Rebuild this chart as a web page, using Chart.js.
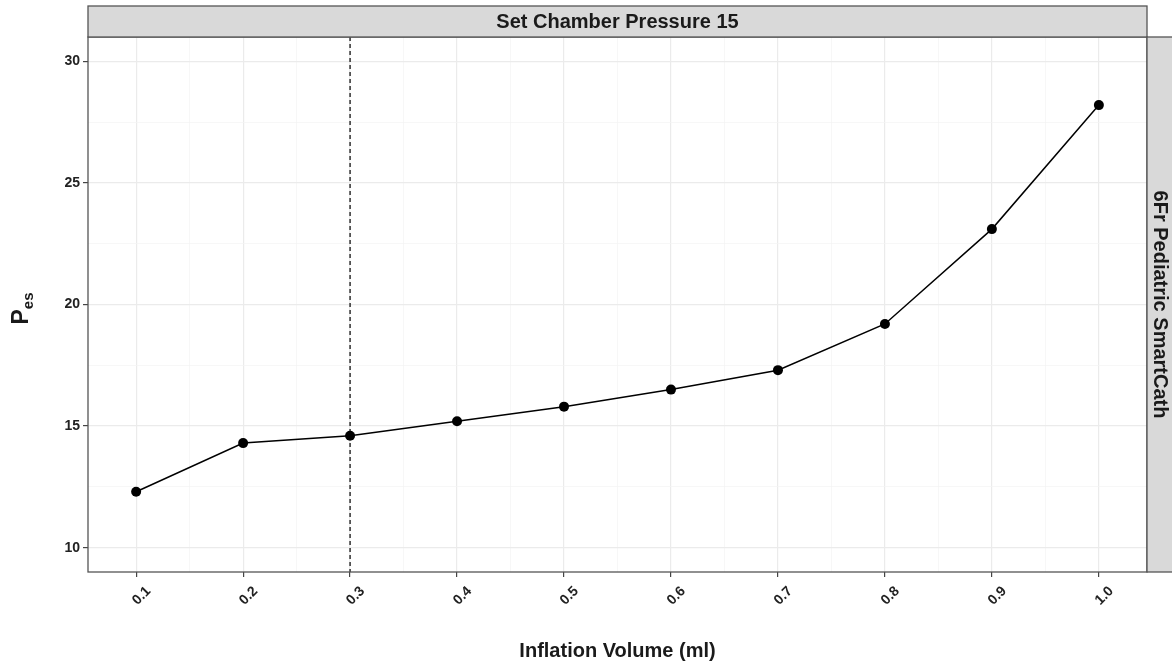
<!DOCTYPE html>
<html>
<head>
<meta charset="utf-8">
<script src="https://cdn.jsdelivr.net/npm/chart.js@4.4.0/dist/chart.umd.min.js"></script>
<style>
    body { margin: 0; background: #fff; }
    #wrap { width: 1172px; height: 671px; }
</style>
</head>
<body>
<div id="wrap"><canvas id="grafico" width="1172" height="671"></canvas></div>
<script>
// dados
const volumes = [0.1, 0.2, 0.3, 0.4, 0.5, 0.6, 0.7, 0.8, 0.9, 1.0];
const pes = [12.3, 14.3, 14.6, 15.2, 15.8, 16.5, 17.3, 19.2, 23.1, 28.2];
const xTicks = [0.1, 0.2, 0.3, 0.4, 0.5, 0.6, 0.7, 0.8, 0.9, 1.0];
const xTickLabels = ['0.1', '0.2', '0.3', '0.4', '0.5', '0.6', '0.7', '0.8', '0.9', '1.0'];
const xMinor = [0.15, 0.25, 0.35, 0.45, 0.55, 0.65, 0.75, 0.85, 0.95];
const yTicks = [10, 15, 20, 25, 30];
const yTickLabels = ['10', '15', '20', '25', '30'];
const yMinor = [12.5, 17.5, 22.5, 27.5];
const linhaRef = [0.3];

const tituloFaixaTopo = 'Set Chamber Pressure 15';
const tituloFaixaLado = '6Fr Pediatric SmartCath';
const tituloX = 'Inflation Volume (ml)';

const fonte = '"Liberation Sans", Arial, sans-serif';

function ehMajor(lista, v) {
    return lista.some(m => Math.abs(m - v) < 1e-6);
}

const pontos = volumes.map((v, i) => ({ x: v, y: pes[i] }));

const decoracao = {
    id: 'decoracao',
    beforeDatasetsDraw(chart) {
        // linha tracejada vertical
        const { ctx, chartArea, scales } = chart;
        ctx.save();
        ctx.strokeStyle = '#000';
        ctx.lineWidth = 1.2;
        ctx.setLineDash([4, 3]);
        linhaRef.forEach(v => {
            const px = scales.x.getPixelForValue(v);
            ctx.beginPath();
            ctx.moveTo(px, chartArea.top);
            ctx.lineTo(px, chartArea.bottom);
            ctx.stroke();
        });
        ctx.restore();
    },
    afterDraw(chart) {
        const { ctx, chartArea, scales } = chart;
        const { left, right, top, bottom } = chartArea;
        ctx.save();

        // borda do painel
        ctx.strokeStyle = '#555';
        ctx.lineWidth = 1.3;
        ctx.strokeRect(left, top, right - left, bottom - top);

        // faixa de cima
        ctx.fillStyle = '#d9d9d9';
        ctx.fillRect(left, 6, right - left, top - 6);
        ctx.strokeRect(left, 6, right - left, top - 6);

        // faixa do lado
        ctx.fillRect(right, top, 40, bottom - top);
        ctx.strokeRect(right, top, 40, bottom - top);

        ctx.fillStyle = '#1a1a1a';
        ctx.font = 'bold 20px ' + fonte;
        ctx.textAlign = 'center';
        ctx.textBaseline = 'middle';
        ctx.fillText(tituloFaixaTopo, (left + right) / 2, (6 + top) / 2 + 1);

        ctx.save();
        ctx.translate(right + 13, (top + bottom) / 2);
        ctx.rotate(Math.PI / 2);
        ctx.fillText(tituloFaixaLado, 0, 0);
        ctx.restore();

        // titulo x
        ctx.fillText(tituloX, (left + right) / 2, 651);

        // labels do eixo x (giradas 45 graus)
        ctx.font = 'bold 14px ' + fonte;
        ctx.fillStyle = '#222';
        xTicks.forEach((v, i) => {
            const px = scales.x.getPixelForValue(v);
            ctx.save();
            ctx.translate(px + 5.5, 596);
            ctx.rotate(-Math.PI / 4);
            ctx.fillText(xTickLabels[i], 0, 0);
            ctx.restore();
        });

        // titulo y com subscrito
        ctx.save();
        ctx.translate(20, (top + bottom) / 2 + 4);
        ctx.rotate(-Math.PI / 2);
        ctx.textAlign = 'left';
        ctx.textBaseline = 'alphabetic';
        ctx.fillStyle = '#1a1a1a';
        ctx.font = 'bold 23px ' + fonte;
        const wP = ctx.measureText('P').width;
        ctx.font = 'bold 15px ' + fonte;
        const wEs = ctx.measureText('es').width;
        const x0 = -(wP + wEs) / 2;
        ctx.font = 'bold 23px ' + fonte;
        ctx.fillText('P', x0, 8);
        ctx.font = 'bold 15px ' + fonte;
        ctx.fillText('es', x0 + wP, 13);
        ctx.restore();

        ctx.restore();
    }
};

new Chart(document.getElementById('grafico'), {
    type: 'line',
    data: {
        datasets: [{
            data: pontos,
            borderColor: '#000',
            backgroundColor: '#000',
            borderWidth: 1.5,
            pointRadius: 5,
            pointHoverRadius: 5,
            pointBorderWidth: 0,
            tension: 0,
            clip: false
        }]
    },
    options: {
        responsive: false,
        animation: false,
        events: [],
        layout: {
            autoPadding: false,
            padding: { left: 0, right: 25, top: 37, bottom: 0 }
        },
        plugins: {
            legend: { display: false },
            tooltip: { enabled: false }
        },
        scales: {
            x: {
                type: 'linear',
                min: 0.055,
                max: 1.045,
                afterBuildTicks(scale) {
                    scale.ticks = xMinor.concat(xTicks).sort((a, b) => a - b).map(v => ({ value: v }));
                },
                afterFit(scale) {
                    scale.height = 99;
                },
                border: { display: false },
                grid: {
                    color: c => ehMajor(xTicks, c.tick.value) ? '#ebebeb' : '#f3f3f3',
                    lineWidth: c => ehMajor(xTicks, c.tick.value) ? 1.2 : 0.7,
                    tickColor: c => ehMajor(xTicks, c.tick.value) ? '#444' : 'rgba(0,0,0,0)',
                    tickLength: 5,
                    drawTicks: true
                },
                ticks: { display: false }
            },
            y: {
                type: 'linear',
                min: 9,
                max: 31,
                afterBuildTicks(scale) {
                    scale.ticks = yMinor.concat(yTicks).sort((a, b) => a - b).map(v => ({ value: v }));
                },
                afterFit(scale) {
                    scale.width = 88;
                },
                border: { display: false },
                grid: {
                    color: c => ehMajor(yTicks, c.tick.value) ? '#ebebeb' : '#f3f3f3',
                    lineWidth: c => ehMajor(yTicks, c.tick.value) ? 1.2 : 0.7,
                    tickColor: c => ehMajor(yTicks, c.tick.value) ? '#444' : 'rgba(0,0,0,0)',
                    tickLength: 5
                },
                ticks: {
                    padding: 3,
                    color: '#222',
                    font: { family: fonte, size: 14, weight: 'bold' },
                    callback: function (v) {
                        const i = yTicks.findIndex(t => Math.abs(t - v) < 1e-6);
                        return i >= 0 ? yTickLabels[i] : '';
                    }
                }
            }
        }
    },
    plugins: [decoracao]
});
</script>
</body>
</html>
